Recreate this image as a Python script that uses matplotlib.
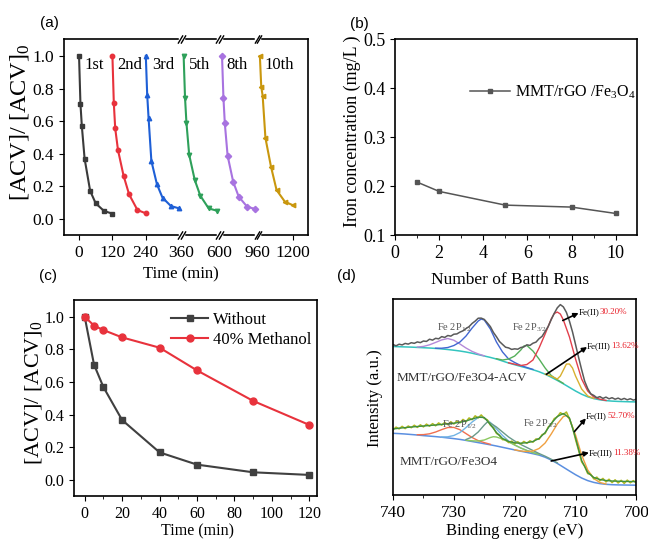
import numpy as np
import matplotlib
matplotlib.use("Agg")
import matplotlib.pyplot as plt
from matplotlib.transforms import blended_transform_factory, offset_copy

plt.rcParams['font.family'] = ['Liberation Serif', 'DejaVu Serif']
plt.rcParams['mathtext.fontset'] = 'stix'
plt.rcParams['mathtext.default'] = 'regular'
plt.rcParams['axes.linewidth'] = 1.2
plt.rcParams['xtick.major.size'] = 3.5
plt.rcParams['ytick.major.size'] = 3.5
plt.rcParams['xtick.minor.size'] = 2
plt.rcParams['ytick.minor.size'] = 2

# ---------------- (a) reuse cycles ----------------
cycle_time = [0, 5, 10, 20, 40, 60, 90, 120]
run_names = ['1st', '2nd', '3rd', '5th', '8th', '10th']
acv_1st = [1.0, 0.708, 0.571, 0.370, 0.172, 0.096, 0.049, 0.033]
acv_2nd = [1.0, 0.710, 0.556, 0.423, 0.266, 0.151, 0.055, 0.035]
acv_3rd = [1.0, 0.761, 0.618, 0.356, 0.213, 0.131, 0.080, 0.065]
acv_5th = [1.0, 0.744, 0.591, 0.393, 0.239, 0.143, 0.065, 0.051]
acv_8th = [1.0, 0.744, 0.587, 0.389, 0.229, 0.137, 0.076, 0.061]
acv_10th = [1.0, 0.810, 0.757, 0.497, 0.321, 0.178, 0.106, 0.084]
a_tick_labels = ['0', '120', '240', '1200']
a_break_labels = ['360', '600', '960']

# ---------------- (b) iron leaching ----------------
bath_runs = [1, 2, 5, 8, 10]
iron_conc = [0.208, 0.189, 0.161, 0.157, 0.144]

# ---------------- (c) scavenger test ----------------
time_c = [0, 5, 10, 20, 40, 60, 90, 120]
acv_without = [1.0, 0.706, 0.569, 0.367, 0.169, 0.094, 0.047, 0.031]
acv_methanol = [1.0, 0.945, 0.918, 0.873, 0.810, 0.671, 0.484, 0.337]

# ---------------- (d) Fe 2p XPS ----------------
e_raw = np.arange(740.0, 699.9, -0.5)
e_fit = np.arange(740, 699, -1)
raw_acv = [150.5, 149.2, 150.8, 150.1, 151.6, 150.9, 152.3, 151.7, 153.1, 152.4,
           154.0, 153.6, 155.8, 154.9, 156.7, 156.2, 158.4, 157.6, 159.5, 158.9,
           160.8, 161.1, 162.9, 164.2, 166.5, 168.4, 171.6, 173.9, 176.8, 176.9,
           175.6, 172.1, 168.4, 162.6, 158.3, 153.5, 150.6, 147.8, 147.1, 145.6,
           146.2, 145.8, 147.5, 148.1, 150.2, 149.6, 151.8, 152.9, 156.3, 158.7,
           163.6, 168.5, 175.4, 181.7, 187.2, 190.4, 188.1, 182.6, 173.8, 163.1,
           150.4, 137.6, 125.3, 113.8, 106.4, 101.2, 99.6, 97.3, 98.4, 96.6,
           97.9, 96.2, 97.3, 95.8, 96.9, 95.4, 96.6, 95.2, 96.3, 94.9, 95.8]
bg_acv = [148.5, 148.3, 148.1, 147.9, 147.6, 147.3, 147.0, 146.6, 146.1, 145.5,
          144.8, 144.0, 143.0, 141.8, 140.4, 139.0, 137.6, 136.0, 134.0, 132.0,
          130.3, 128.6, 127.0, 125.3, 123.3, 120.8, 117.8, 114.6, 111.2, 107.6,
          104.0, 100.8, 98.2, 96.4, 95.2, 94.4, 93.9, 93.6, 93.4, 93.2, 93.1]
sat1_acv_e = [736, 735, 734, 733, 732, 731, 730, 729, 728, 727, 726, 725]
sat1_acv = [148.0, 148.6, 150.2, 152.6, 155.1, 156.5, 154.8, 151.0, 147.0, 143.6, 141.1, 139.2]
p12_acv_e = [733, 732, 731, 730, 729, 728, 727, 726, 725.5, 725, 724, 723, 722, 721, 720, 719, 718, 717]
p12_acv = [146.8, 146.8, 147.5, 149.5, 153.0, 159.0, 167.0, 174.0, 176.0, 175.0, 166.0, 153.0,
           143.0, 136.0, 132.5, 129.5, 127.5, 125.6]
sat2_acv_e = [723, 722, 721, 720, 719, 718.5, 718, 717, 716, 715, 714, 713, 712]
sat2_acv = [136.3, 135.0, 136.0, 139.0, 145.0, 149.0, 149.5, 144.0, 136.0, 127.0, 119.5, 115.3, 111.6]
fe2_acv_e = [721, 720, 719, 718, 717, 716, 715, 714, 713.5, 713, 712.5, 712, 711, 710, 709, 708, 707, 706, 705]
fe2_acv = [132.2, 130.8, 129.5, 130.5, 135.0, 147.0, 161.0, 176.0, 181.5, 183.0, 181.0, 175.0,
           158.0, 136.0, 116.0, 104.0, 98.0, 95.8, 94.6]
fe3_acv_e = [715, 714, 713, 712.5, 712, 711.5, 711, 710.5, 710, 709, 708, 707]
fe3_acv = [121.0, 118.8, 116.0, 119.0, 125.0, 131.0, 131.0, 127.0, 119.0, 106.0, 99.0, 96.6]

raw_fe3o4 = [65.2, 67.9, 66.1, 68.7, 66.4, 69.0, 67.3, 69.8, 67.6, 70.2,
             68.1, 70.9, 68.8, 71.4, 69.2, 72.1, 69.9, 72.6, 70.4, 73.3,
             71.0, 73.9, 72.2, 75.6, 73.4, 77.1, 75.3, 79.2, 77.1, 80.1,
             76.6, 75.2, 69.8, 67.4, 61.6, 59.8, 55.3, 55.6, 52.4, 53.9,
             51.2, 53.3, 50.9, 53.6, 51.7, 54.2, 52.8, 56.1, 55.7, 60.4,
             61.5, 67.9, 70.8, 76.4, 78.2, 82.3, 80.6, 83.0, 76.2, 67.8,
             55.4, 44.6, 33.1, 28.7, 21.4, 20.6, 16.2, 17.9, 14.3, 16.6,
             13.1, 15.8, 12.4, 15.2, 12.0, 14.7, 11.6, 14.9, 12.2, 14.4, 11.8]
env_fe3o4 = [66.0, 66.8, 67.4, 68.0, 68.5, 69.0, 69.5, 70.0, 70.6, 71.2,
             71.8, 72.7, 74.0, 76.0, 77.8, 77.5, 70.5, 62.5, 56.5, 53.5,
             52.2, 51.8, 52.3, 53.5, 56.5, 62.5, 71.5, 78.5, 81.5, 77.0,
             57.0, 34.5, 22.5, 17.5, 15.5, 14.5, 14.0, 13.8, 13.6, 13.5, 13.4]
bg_fe3o4 = [61.7, 61.4, 61.0, 60.5, 60.0, 59.4, 58.9, 58.4, 57.8, 57.1,
            56.4, 55.6, 54.6, 53.5, 52.4, 51.3, 50.2, 49.0, 47.7, 46.4,
            45.1, 43.8, 42.6, 41.3, 39.9, 37.8, 35.0, 31.6, 27.8, 24.0,
            20.3, 17.0, 14.4, 12.6, 11.4, 10.7, 10.3, 10.1, 10.0, 9.9, 9.8]
sat1_fe3o4_e = [736, 735, 734, 733, 732, 731, 730, 729, 728, 727, 726, 725, 724]
sat1_fe3o4 = [60.3, 60.4, 61.2, 63.0, 65.4, 67.5, 67.6, 65.3, 61.4, 57.5, 54.4, 52.4, 50.7]
p12_fe3o4_e = [732, 731, 730, 729, 728, 727, 726, 725.5, 725, 724, 723, 722, 721, 720, 719, 718, 717, 716]
p12_fe3o4 = [58.0, 58.2, 59.5, 62.5, 67.5, 73.0, 77.5, 78.3, 77.0, 72.5, 66.0, 59.5,
             54.0, 50.0, 47.0, 44.6, 42.6, 41.0]
sat2_fe3o4_e = [728, 727, 726, 725, 724, 723.5, 723, 722, 721, 720, 719, 718, 717, 716]
sat2_fe3o4 = [54.8, 54.2, 54.0, 55.0, 57.5, 58.3, 58.0, 56.0, 53.0, 50.0, 47.0, 44.5, 42.3, 40.5]
p12b_fe3o4_e = [728, 727, 726, 725, 724.5, 724, 723, 722, 721, 720, 719, 718, 717, 716, 715, 714, 713]
p12b_fe3o4 = [55.5, 58.0, 63.0, 70.0, 73.0, 72.0, 68.0, 63.0, 58.0, 54.0, 50.5, 47.5,
              44.5, 41.5, 38.8, 35.8, 32.2]
fe2_fe3o4_e = [720, 719, 718, 717, 716, 715, 714, 713, 712, 711.5, 711, 710, 709, 708, 707, 706, 705]
fe2_fe3o4 = [45.2, 44.0, 43.5, 44.0, 46.5, 52.0, 61.0, 71.0, 78.5, 79.5, 76.0, 60.0, 40.0,
             25.0, 16.5, 12.5, 11.0]

fig = plt.figure(figsize=(6.48, 5.42), dpi=100)

# ======== (a) ========
ax = fig.add_axes([0.0988, 0.5664, 0.3765, 0.3616])
run_series = [acv_1st, acv_2nd, acv_3rd, acv_5th, acv_8th, acv_10th]
run_colors = ['#3a3a3a', '#e8323c', '#1e5fd6', '#2ea05a', '#a873e0', '#c9970e']
run_markers = ['s', 'o', '^', 'v', 'D', '<']
run_offset = [0, 120, 240, 376, 514, 650]      # position of each cycle on the broken axis
break_pos = [368, 505, 642]
label_pos = [20, 139, 262, 394, 531, 668]
for vals, col, mk, off, name, lp in zip(run_series, run_colors, run_markers,
                                        run_offset, run_names, label_pos):
    ax.plot(np.array(cycle_time) + off, vals, color=col, marker=mk, ms=3.2, lw=1.5)
    ax.text(lp, 0.945, name, fontsize=12, va='center', ha='left')
ax.set_xlim(-54, 823)
ax.set_ylim(-0.098, 1.104)
ax.set_xticks([0, 120, 240, 770], a_tick_labels)
ax.set_xticks(break_pos, a_break_labels, minor=True)
ax.tick_params(axis='x', which='minor', length=0, pad=7)
ax.tick_params(axis='both', which='both', labelsize=12.5)
ax.set_yticks([0.0, 0.2, 0.4, 0.6, 0.8, 1.0])
ax.yaxis.set_major_formatter(plt.FormatStrFormatter('%.1f'))
tr = blended_transform_factory(ax.transData, ax.transAxes)
for bp in break_pos:
    for yy in (0, 1):
        ax.plot([bp - 5, bp + 5], [yy, yy], color='white', lw=2.5, transform=tr,
                clip_on=False, zorder=5)
        for dx in (-4, 4):
            ax.plot([bp + dx], [yy], marker=[(-0.6, -1), (0.6, 1)], ms=6, color='black',
                    mew=1.0, transform=tr, clip_on=False, zorder=6)
ax.set_ylabel(r'[ACV]/ [ACV]$_0$', fontsize=17.5)
ax.yaxis.set_label_coords(-0.135, 0.574)
ax.set_xlabel('Time (min)', fontsize=12)
ax.xaxis.set_label_coords(0.48, -0.158)

# ======== (b) ========
ax = fig.add_axes([0.6096, 0.5664, 0.3735, 0.3616])
ax.plot(bath_runs, iron_conc, color='#555555', marker='s', ms=3.5, lw=1.1,
        label=r'MMT/rGO /Fe$_3$O$_4$')
ax.set_xlim(0, 10.97)
ax.set_ylim(0.1, 0.5)
ax.set_xticks([0, 2, 4, 6, 8, 10])
ax.set_xticks([1, 3, 5, 7, 9], minor=True)
ax.set_yticks([0.1, 0.2, 0.3, 0.4, 0.5])
ax.tick_params(axis='both', which='both', labelsize=13)
ax.legend(loc='center left', bbox_to_anchor=(0.31, 0.73), frameon=False, fontsize=11.5,
          handlelength=2.5, borderpad=0, borderaxespad=0, handletextpad=0.3)
ax.set_ylabel('Iron concentration (mg/L )', fontsize=13)
ax.yaxis.set_label_coords(-0.14, 0.53)
ax.set_xlabel('Number of Batth Runs', fontsize=12.5)
ax.xaxis.set_label_coords(0.475, -0.189)

# ======== (c) ========
ax = fig.add_axes([0.1142, 0.0849, 0.375, 0.3616])
ax.plot(time_c, acv_without, color='#404040', marker='s', ms=4.5, lw=1.5, label='Without')
ax.plot(time_c, acv_methanol, color='#e8323c', marker='o', ms=5, lw=1.5, label='40% Methanol')
ax.set_xlim(-5.7, 124.1)
ax.set_ylim(-0.098, 1.102)
ax.set_xticks([0, 20, 40, 60, 80, 100, 120])
ax.set_xticks([10, 30, 50, 70, 90, 110], minor=True)
ax.set_yticks([0.0, 0.2, 0.4, 0.6, 0.8, 1.0])
ax.yaxis.set_major_formatter(plt.FormatStrFormatter('%.1f'))
ax.tick_params(axis='both', which='both', labelsize=11.5)
ax.legend(loc='upper left', bbox_to_anchor=(0.40, 0.94), frameon=False, fontsize=12,
          handlelength=2.2, borderpad=0, borderaxespad=0, handletextpad=0.3,
          labelspacing=0.25)
ax.set_ylabel(r'[ACV]/ [ACV]$_0$', fontsize=16)
ax.yaxis.set_label_coords(-0.122, 0.526)
ax.set_xlabel('Time (min)', fontsize=11.5)
ax.xaxis.set_label_coords(0.508, -0.138)

# ======== (d) ========
ax = fig.add_axes([0.6065, 0.0867, 0.3756, 0.3616])
# upper spectrum: MMT/rGO/Fe3O4-ACV
ax.plot(e_fit, bg_acv, color='#33c4bf', lw=1.1)
ax.plot(sat1_acv_e, sat1_acv, color='#b48ad8', lw=1.0)
ax.plot(p12_acv_e, p12_acv, color='#4267d2', lw=1.0)
ax.plot(sat2_acv_e, sat2_acv, color='#55b05a', lw=1.0)
ax.plot(fe2_acv_e, fe2_acv, color='#e2404c', lw=1.0)
ax.plot(fe3_acv_e, fe3_acv, color='#d8b030', lw=1.0)
ax.plot(e_raw, raw_acv, color='#5a5a5a', lw=1.1)
# lower spectrum: MMT/rGO/Fe3O4
ax.plot(e_fit, bg_fe3o4, color='#5b8fe0', lw=1.1)
ax.plot(sat1_fe3o4_e, sat1_fe3o4, color='#f07050', lw=1.0)
ax.plot(p12_fe3o4_e, p12_fe3o4, color='#72b4e4', lw=1.0)
ax.plot(sat2_fe3o4_e, sat2_fe3o4, color='#8cc860', lw=1.0)
ax.plot(p12b_fe3o4_e, p12b_fe3o4, color='#6a9a8a', lw=1.0)
ax.plot(fe2_fe3o4_e, fe2_fe3o4, color='#f0a040', lw=1.0)
ax.plot(e_raw, raw_fe3o4, color='#b0b820', lw=1.1)
ax.plot(e_fit, env_fe3o4, color='#3f8f3f', lw=1.0)

ax.set_xlim(740, 700)
ax.set_ylim(0, 196)
ax.set_xticks([740, 730, 720, 710, 700])
ax.set_xticks([735, 725, 715, 705], minor=True)
ax.set_yticks([])
ax.tick_params(axis='x', which='both', labelsize=12.5)

ax.text(739.4, 117, 'MMT/rGO/Fe3O4-ACV', fontsize=9.5, va='center', ha='left', color='#333333')
ax.text(738.9, 33, 'MMT/rGO/Fe3O4', fontsize=9.5, va='center', ha='left', color='#333333')
for x0, y0, s in [(732.8, 167, r'Fe 2P$_{1/2}$'), (720.5, 167, r'Fe 2P$_{3/2}$'),
                  (732.0, 70, r'Fe 2P$_{1/2}$'), (718.6, 71, r'Fe 2P$_{3/2}$')]:
    ax.text(x0, y0, s, fontsize=7.5, color='#555555', va='center', ha='left')

arrows = [((712.1, 174.5), (709.5, 182), 'Fe(II)', '30.20%', 183),
          ((714.8, 120.7), (708.1, 148), 'Fe(III)', '13.62%', 149),
          ((710.2, 63.3), (708.3, 76.7), 'Fe(II)', '52.70%', 79),
          ((714.0, 34.0), (707.8, 42.3), 'Fe(III)', '11.38%', 42)]
for start, end, tag, pct, ty in arrows:
    ax.annotate('', xy=end, xytext=start,
                arrowprops=dict(arrowstyle='-|>', color='black', lw=1.2,
                                mutation_scale=7, shrinkA=0, shrinkB=0))
    ax.text(end[0], ty, tag, fontsize=6.5, va='center', ha='left', color='black')
    shift = 2.35 * 6.5 if tag == 'Fe(II)' else 2.7 * 6.5
    ax.text(end[0], ty, pct, fontsize=6.5, va='center', ha='left', color='#e8202a',
            transform=offset_copy(ax.transData, fig=fig, x=shift, units='points'))

ax.set_ylabel('Intensity (a.u.)', fontsize=12)
ax.yaxis.set_label_coords(-0.041, 0.495)
ax.set_xlabel('Binding energy (eV)', fontsize=12)
ax.xaxis.set_label_coords(0.501, -0.143)

# panel letters
for x0, y0, s in [(0.077, 0.958, '(a)'), (0.554, 0.955, '(b)'),
                  (0.074, 0.491, '(c)'), (0.534, 0.491, '(d)')]:
    fig.text(x0, y0, s, fontsize=11, ha='center', va='center', family='Liberation Sans')

fig.savefig('out.png', dpi=100)
